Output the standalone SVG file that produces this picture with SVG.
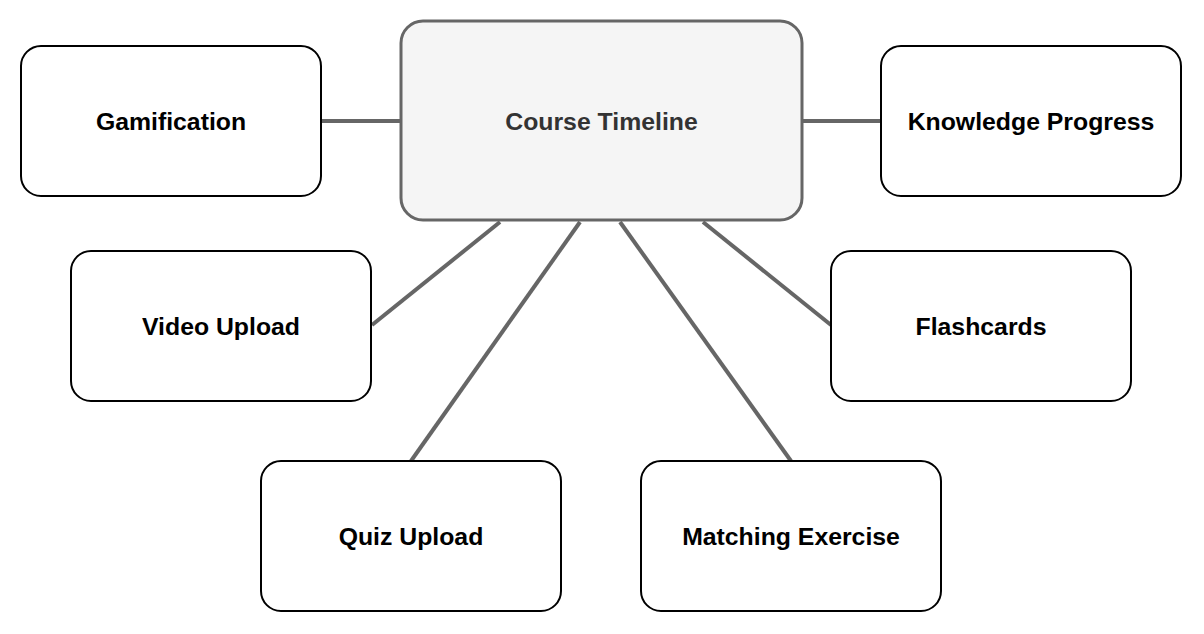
<svg xmlns="http://www.w3.org/2000/svg" width="1204" height="634" viewBox="0 0 1204 634">
<style>
.node{fill:#fff;stroke:#000;stroke-width:2}
.center{fill:#f5f5f5;stroke:#666;stroke-width:3}
.lbl{font-family:"Liberation Sans",Arial,sans-serif;font-weight:bold;font-size:24.8px;fill:#000;text-anchor:middle}
.clbl{fill:#333}
.edge{stroke:#666;stroke-width:4;fill:none}
</style>
<rect width="1204" height="634" fill="#fff"/>
<g id="connectors">
<line class="edge" x1="321" y1="121" x2="401" y2="121"/>
<line class="edge" x1="802" y1="121" x2="881" y2="121"/>
<line class="edge" x1="372" y1="325" x2="500" y2="222"/>
<line class="edge" x1="831" y1="325" x2="703" y2="222"/>
<line class="edge" x1="411" y1="461" x2="580" y2="222"/>
<line class="edge" x1="791" y1="461" x2="620" y2="222"/>
</g>
<g id="course-timeline">
<rect class="center" x="401" y="21" width="401" height="199" rx="22"/>
<text class="lbl clbl" x="601.5" y="130">Course Timeline</text>
</g>
<g id="gamification">
<rect class="node" x="21" y="46" width="300" height="150" rx="20"/>
<text class="lbl" x="171" y="130">Gamification</text>
</g>
<g id="knowledge-progress">
<rect class="node" x="881" y="46" width="300" height="150" rx="20"/>
<text class="lbl" x="1031" y="130">Knowledge Progress</text>
</g>
<g id="video-upload">
<rect class="node" x="71" y="251" width="300" height="150" rx="20"/>
<text class="lbl" x="221" y="335">Video Upload</text>
</g>
<g id="flashcards">
<rect class="node" x="831" y="251" width="300" height="150" rx="20"/>
<text class="lbl" x="981" y="335">Flashcards</text>
</g>
<g id="quiz-upload">
<rect class="node" x="261" y="461" width="300" height="150" rx="20"/>
<text class="lbl" x="411" y="545">Quiz Upload</text>
</g>
<g id="matching-exercise">
<rect class="node" x="641" y="461" width="300" height="150" rx="20"/>
<text class="lbl" x="791" y="545">Matching Exercise</text>
</g>
</svg>
